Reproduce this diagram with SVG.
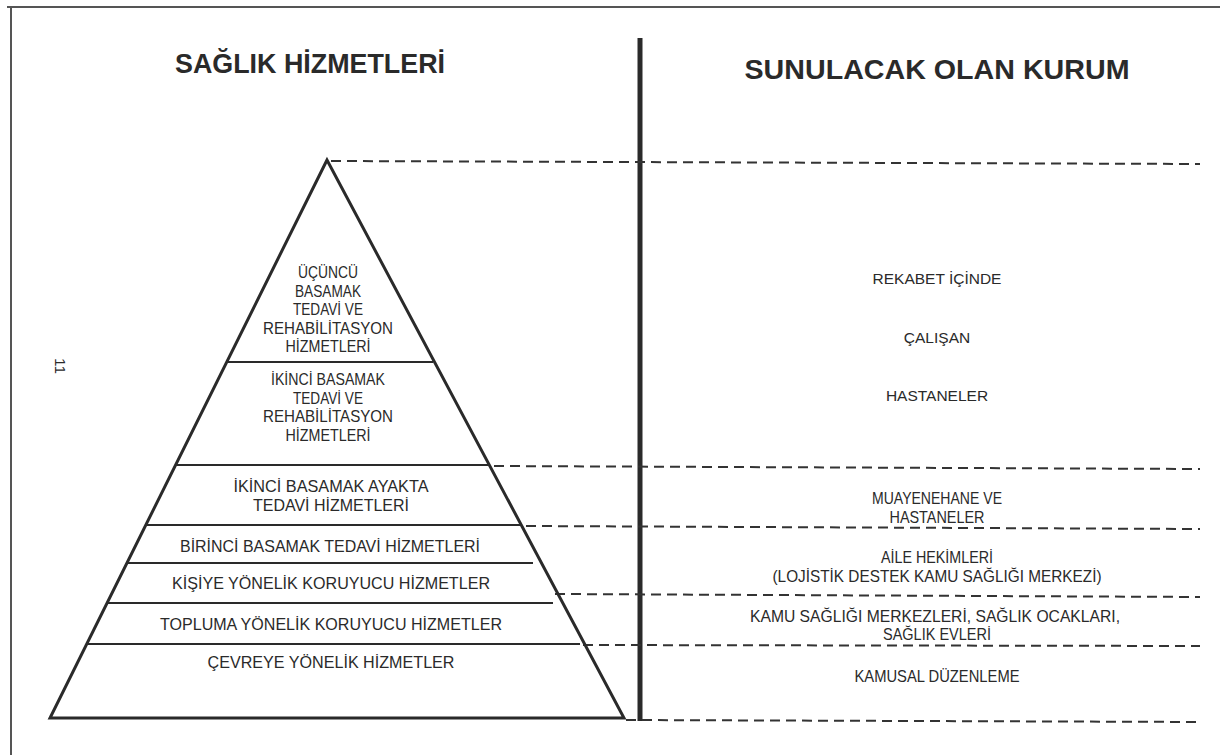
<svg xmlns="http://www.w3.org/2000/svg" width="1220" height="755" viewBox="0 0 1220 755">
<style>
.t{font-family:"Liberation Sans",Arial,sans-serif;font-size:17px;fill:#2a2a2a;text-anchor:middle}
.w{font-family:"Liberation Sans",Arial,sans-serif;font-size:15.5px;fill:#2a2a2a;text-anchor:middle}
.h{font-family:"Liberation Sans",Arial,sans-serif;font-size:28px;font-weight:bold;fill:#2a2a2a;text-anchor:middle}
.band{stroke:#2a2a2a;stroke-width:2;fill:none}
.dash{stroke:#333;stroke-width:2;stroke-dasharray:10,6;fill:none}
</style>
<rect width="1220" height="755" fill="#ffffff"/>
<g id="frame">
<line x1="7" y1="7" x2="1220" y2="7" stroke="#555" stroke-width="2"/>
<line x1="11" y1="7" x2="11" y2="755" stroke="#555" stroke-width="2"/>
</g>
<g id="titles">
<text class="h" x="310" y="73" textLength="270" lengthAdjust="spacingAndGlyphs">SAĞLIK HİZMETLERİ</text>
<text class="h" x="937" y="79" textLength="385" lengthAdjust="spacingAndGlyphs">SUNULACAK OLAN KURUM</text>
</g>
<g id="page-number">
<text class="w" transform="translate(55,366) rotate(90)" x="0" y="0">11</text>
</g>
<g id="divider">
<line x1="640" y1="38" x2="640" y2="721" stroke="#2a2a2a" stroke-width="5"/>
</g>
<g id="connectors">
<line class="dash" x1="331" y1="161" x2="1200" y2="164"/>
<line class="dash" x1="494" y1="466" x2="1200" y2="469"/>
<line class="dash" x1="526" y1="526" x2="1200" y2="529"/>
<line class="dash" x1="555" y1="594" x2="1200" y2="597"/>
<line class="dash" x1="583" y1="645" x2="1200" y2="646"/>
<line class="dash" x1="626" y1="720" x2="1200" y2="722"/>
</g>
<g id="pyramid">
<polygon points="327,160 50,718 624,718" fill="none" stroke="#2a2a2a" stroke-width="3" stroke-linejoin="miter"/>
</g>
<g id="n1">
<line class="band" x1="227" y1="362" x2="433" y2="362"/>
<text class="t" x="328" y="278" textLength="60" lengthAdjust="spacingAndGlyphs">ÜÇÜNCÜ</text>
<text class="t" x="328" y="297" textLength="66" lengthAdjust="spacingAndGlyphs">BASAMAK</text>
<text class="t" x="328" y="315" textLength="70" lengthAdjust="spacingAndGlyphs">TEDAVİ VE</text>
<text class="t" x="328" y="334" textLength="130" lengthAdjust="spacingAndGlyphs">REHABİLİTASYON</text>
<text class="t" x="328" y="352" textLength="85" lengthAdjust="spacingAndGlyphs">HİZMETLERİ</text>
</g>
<g id="n2">
<line class="band" x1="176" y1="465" x2="490" y2="465"/>
<text class="t" x="328" y="385" textLength="114" lengthAdjust="spacingAndGlyphs">İKİNCİ BASAMAK</text>
<text class="t" x="328" y="404" textLength="70" lengthAdjust="spacingAndGlyphs">TEDAVİ VE</text>
<text class="t" x="328" y="422" textLength="130" lengthAdjust="spacingAndGlyphs">REHABİLİTASYON</text>
<text class="t" x="328" y="441" textLength="85" lengthAdjust="spacingAndGlyphs">HİZMETLERİ</text>
</g>
<g id="n3">
<line class="band" x1="146" y1="525" x2="522" y2="525"/>
<text class="t" x="331" y="492" textLength="195" lengthAdjust="spacingAndGlyphs">İKİNCİ BASAMAK AYAKTA</text>
<text class="t" x="331" y="511" textLength="156" lengthAdjust="spacingAndGlyphs">TEDAVİ HİZMETLERİ</text>
</g>
<g id="n4">
<line class="band" x1="127" y1="563" x2="533" y2="563"/>
<text class="t" x="330" y="552" textLength="300" lengthAdjust="spacingAndGlyphs">BİRİNCİ BASAMAK TEDAVİ HİZMETLERİ</text>
</g>
<g id="n5">
<line class="band" x1="107" y1="603" x2="553" y2="603"/>
<text class="t" x="331" y="589" textLength="318" lengthAdjust="spacingAndGlyphs">KİŞİYE YÖNELİK KORUYUCU HİZMETLER</text>
</g>
<g id="n6">
<line class="band" x1="87" y1="644" x2="580" y2="644"/>
<text class="t" x="331" y="630" textLength="342" lengthAdjust="spacingAndGlyphs">TOPLUMA YÖNELİK KORUYUCU HİZMETLER</text>
</g>
<g id="n7">
<text class="t" x="331" y="668" textLength="247" lengthAdjust="spacingAndGlyphs">ÇEVREYE YÖNELİK HİZMETLER</text>
</g>
<g id="r1">
<text class="w" x="937" y="284">REKABET İÇİNDE</text>
<text class="w" x="937" y="343">ÇALIŞAN</text>
<text class="w" x="937" y="401">HASTANELER</text>
</g>
<g id="r2">
<text class="t" x="937" y="504" textLength="130" lengthAdjust="spacingAndGlyphs">MUAYENEHANE VE</text>
<text class="t" x="937" y="523" textLength="95" lengthAdjust="spacingAndGlyphs">HASTANELER</text>
</g>
<g id="r3">
<text class="t" x="937" y="563" textLength="112" lengthAdjust="spacingAndGlyphs">AİLE HEKİMLERİ</text>
<text class="t" x="937" y="582" textLength="329" lengthAdjust="spacingAndGlyphs">(LOJİSTİK DESTEK KAMU SAĞLIĞI MERKEZİ)</text>
</g>
<g id="r4">
<text class="t" x="935" y="622" textLength="370" lengthAdjust="spacingAndGlyphs">KAMU SAĞLIĞI MERKEZLERİ, SAĞLIK OCAKLARI,</text>
<text class="t" x="937" y="640" textLength="108" lengthAdjust="spacingAndGlyphs">SAĞLIK EVLERİ</text>
</g>
<g id="r5">
<text class="t" x="937" y="682" textLength="165" lengthAdjust="spacingAndGlyphs">KAMUSAL DÜZENLEME</text>
</g>
</svg>
